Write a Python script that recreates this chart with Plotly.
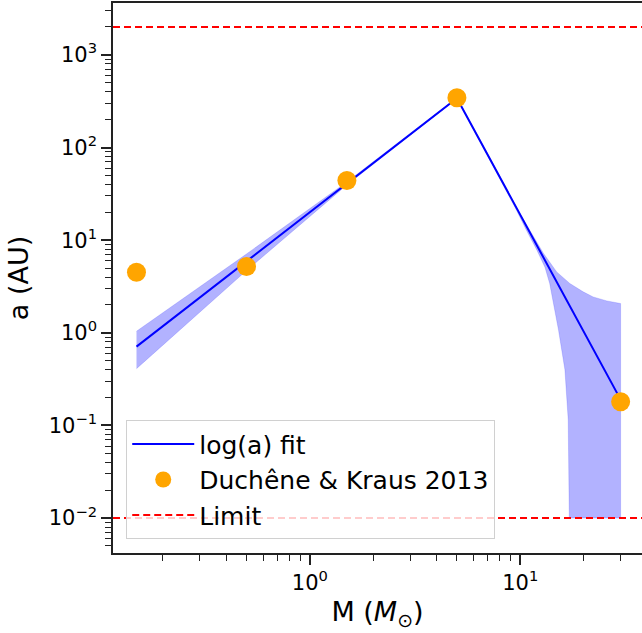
import math
import plotly.graph_objects as go

# --- data ---
obs_mass = [0.15, 0.5, 1.5, 5, 30]
obs_sep = [4.5, 5.2, 44, 345, 0.18]

fit_mass = [0.15, 0.5, 1.5, 5, 30]
fit_sep = [0.71, 5.9, 41, 341, 0.19]

band_up_mass = [0.15, 0.5, 1.5, 5, 7, 9.6, 11.1, 12.9, 14.9, 17.2, 19.9, 22.2, 25.8, 30]
band_up_sep = [1.04, 7.1, 42.5, 347, 86, 22.5, 12.8, 7.2, 4.54, 3.41, 2.77, 2.44, 2.21, 2.07]
band_lo_mass = [0.15, 0.5, 1.5, 5, 7, 9.6, 10.7, 12.0, 13.1, 13.8, 15.2, 16.3, 16.9, 17.1, 30]
band_lo_sep = [0.41, 4.7, 39.5, 336, 81, 21, 12.8, 7.8, 5.1, 3.41, 1.07, 0.40, 0.115, 0.01, 0.01]

limits = [2000, 0.01]

x_range = [0.116, 37.9]
y_range = [0.0042, 3630]

x_tickvals = [1, 10]
x_ticktext = ["10<sup>0</sup>", "10<sup>1</sup>"]
y_tickvals = [0.01, 0.1, 1, 10, 100, 1000]
y_ticktext = ["10<sup>−2</sup>", "10<sup>−1</sup>", "10<sup>0</sup>",
              "10<sup>1</sup>", "10<sup>2</sup>", "10<sup>3</sup>"]


def minor_vals(lo, hi):
    out = []
    for e in range(math.floor(math.log10(lo)), math.ceil(math.log10(hi)) + 1):
        for m in range(2, 10):
            v = m * 10 ** e
            if lo <= v <= hi:
                out.append(v)
    return out


FONT = "DejaVu Sans"

fig = go.Figure()

fig.add_trace(go.Scatter(
    x=band_up_mass + band_lo_mass[::-1],
    y=band_up_sep + band_lo_sep[::-1],
    fill="toself", mode="lines",
    fillcolor="rgba(0,0,255,0.3)",
    line=dict(color="rgba(0,0,255,0.15)", width=1),
    showlegend=False, hoverinfo="skip",
))

fig.add_trace(go.Scatter(
    x=fit_mass, y=fit_sep, mode="lines", name="log(a) fit",
    line=dict(color="blue", width=2), legendgroup="g1",
))

fig.add_trace(go.Scatter(
    x=obs_mass, y=obs_sep, mode="markers", name="Duchêne & Kraus 2013",
    marker=dict(color="orange", size=19), legendgroup="g2",
))

lx, ly = [], []
for v in limits:
    lx += [x_range[0], x_range[1], None]
    ly += [v, v, None]
fig.add_trace(go.Scatter(
    x=lx, y=ly, mode="lines", name="Limit",
    line=dict(color="red", width=2, dash="7px,4px"), legendgroup="g3",
))

axis_common = dict(
    type="log", showgrid=False, zeroline=False,
    showline=True, linecolor="#222222", linewidth=1.5,
    ticks="outside", ticklen=10, tickwidth=1.5, tickcolor="#222222",
    tickfont=dict(family=FONT, size=21, color="black"),
)

fig.update_xaxes(
    **axis_common,
    range=[math.log10(x_range[0]), math.log10(x_range[1])],
    tickmode="array", tickvals=x_tickvals, ticktext=x_ticktext,
    mirror=True,
    minor=dict(ticks="outside", ticklen=6, tickwidth=1.2, tickcolor="#222222",
               tickmode="array", tickvals=minor_vals(*x_range)),
    title=dict(text="M (<i>M</i><sub>⊙</sub>)",
               font=dict(family=FONT, size=27, color="black"), standoff=8),
)
fig.update_yaxes(
    **axis_common,
    range=[math.log10(y_range[0]), math.log10(y_range[1])],
    tickmode="array", tickvals=y_tickvals, ticktext=y_ticktext,
    minor=dict(ticks="outside", ticklen=6, tickwidth=1.2, tickcolor="#222222",
               tickmode="array", tickvals=minor_vals(*y_range)),
    title=dict(text="a (AU)",
               font=dict(family=FONT, size=27, color="black"), standoff=12),
)

fig.update_layout(
    width=642, height=633,
    margin=dict(l=113, r=0, t=3, b=80, autoexpand=False),
    plot_bgcolor="white", paper_bgcolor="white",
    font=dict(family=FONT, color="black"),
    legend=dict(
        x=0.025, y=0.025, xanchor="left", yanchor="bottom",
        bgcolor="rgba(255,255,255,0.8)", bordercolor="#d0d0d0", borderwidth=1,
        font=dict(family=FONT, size=25, color="black"),
        itemwidth=62, traceorder="grouped", tracegroupgap=0,
    ),
)

fig.write_html("out.html",
               config={"displayModeBar": False},
               post_script="document.body.style.margin='0';document.body.style.padding='0';")
